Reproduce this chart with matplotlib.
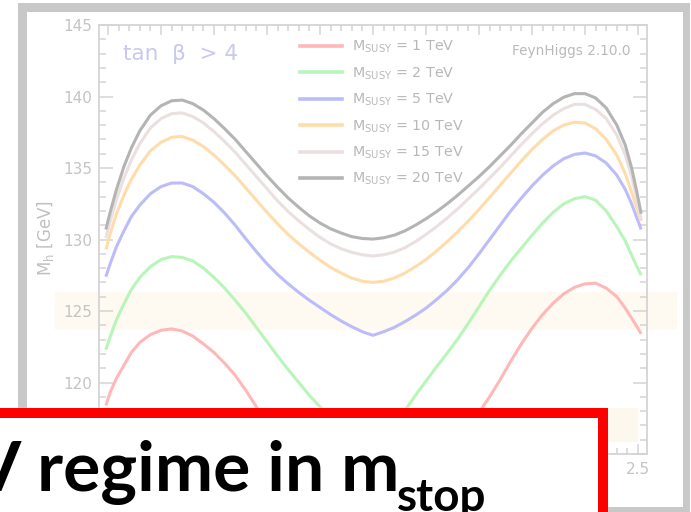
import matplotlib
matplotlib.use("Agg")
import matplotlib.pyplot as plt
from matplotlib.patches import Rectangle
from matplotlib.lines import Line2D
from matplotlib.ticker import MultipleLocator, FuncFormatter

W, H = 691, 512

xt = [-2.52, -2.48, -2.42, -2.35, -2.28, -2.2,
      -2.1, -2.0, -1.9, -1.8, -1.7, -1.6, -1.5, -1.4, -1.3, -1.2, -1.1, -1.0,
      -0.9, -0.8, -0.7, -0.6, -0.5, -0.4, -0.3, -0.2, -0.1,
      0.0, 0.1, 0.2, 0.3, 0.4, 0.5, 0.6, 0.7, 0.8, 0.9, 1.0, 1.1,
      1.2, 1.3, 1.4, 1.5, 1.6, 1.7, 1.8, 1.9, 2.0, 2.1, 2.2, 2.3,
      2.38, 2.44, 2.49, 2.53]

mh_1 = [118.4, 119.3, 120.3, 121.2, 122.1, 122.8,
        123.35, 123.65, 123.75, 123.6, 123.25, 122.7, 122.1, 121.35, 120.5, 119.45, 118.3, 117.0,
        115.6, 114.2, 112.9, 111.9, 111.1, 110.4, 109.8, 109.4, 109.1,
        109.0, 109.2, 109.7, 110.4, 111.3, 112.3, 113.4, 114.6, 115.8, 116.9, 117.9, 119.0,
        120.2, 121.5, 122.7, 123.8, 124.75, 125.55, 126.2, 126.65, 126.9, 126.95, 126.6, 126.0,
        125.2, 124.5, 123.9, 123.4]
mh_2 = [122.3, 123.2, 124.4, 125.5, 126.5, 127.35,
        128.1, 128.6, 128.8, 128.75, 128.5, 128.0, 127.35, 126.6, 125.75, 124.85, 123.85, 122.85,
        121.85, 120.9, 120.0, 119.1, 118.3, 117.5, 116.8, 116.2, 115.8,
        115.6, 116.0, 116.9, 118.0, 119.1, 120.1, 121.1, 122.05, 123.05, 124.15, 125.3, 126.45,
        127.5, 128.5, 129.4, 130.3, 131.15, 131.9, 132.5, 132.85, 133.0, 132.75, 132.0, 130.9,
        129.9, 128.9, 128.1, 127.5]
mh_5 = [127.4, 128.3, 129.5, 130.6, 131.6, 132.4,
        133.2, 133.7, 133.95, 133.95, 133.7, 133.2, 132.6, 131.85, 131.0, 130.05, 129.15, 128.3,
        127.55, 126.9, 126.3, 125.75, 125.25, 124.75, 124.3, 123.9, 123.55,
        123.3, 123.55, 123.85, 124.25, 124.7, 125.2, 125.8, 126.45, 127.2, 128.05, 129.0, 130.0,
        131.0, 132.0, 132.9, 133.75, 134.5, 135.15, 135.65, 135.95, 136.05, 135.85, 135.35, 134.5,
        133.5, 132.5, 131.5, 130.7]
mh_10 = [129.3, 130.4, 131.8, 133.1, 134.2, 135.2,
         136.2, 136.8, 137.15, 137.2, 136.95, 136.5, 135.9, 135.2, 134.45, 133.6, 132.75, 131.9,
         131.1, 130.35, 129.7, 129.1, 128.55, 128.05, 127.65, 127.3, 127.08,
         127.0, 127.08, 127.3, 127.65, 128.1, 128.6, 129.2, 129.85, 130.55, 131.3, 132.1, 132.95,
         133.8, 134.65, 135.5, 136.3, 137.0, 137.6, 138.0, 138.2, 138.15, 137.75, 137.0, 135.9,
         134.6, 133.3, 132.2, 131.3]
mh_15 = [130.1, 131.25, 132.8, 134.3, 135.55, 136.7,
         137.8, 138.45, 138.8, 138.85, 138.6, 138.15, 137.55, 136.85, 136.1, 135.25, 134.4, 133.55,
         132.7, 131.95, 131.3, 130.7, 130.15, 129.7, 129.35, 129.1, 128.93,
         128.85, 128.93, 129.12, 129.42, 129.85, 130.35, 130.9, 131.5, 132.15, 132.85, 133.55, 134.3,
         135.05, 135.85, 136.65, 137.4, 138.1, 138.7, 139.15, 139.45, 139.45, 139.1, 138.45, 137.3,
         135.9, 134.4, 132.8, 131.4]
mh_20 = [130.7, 131.9, 133.5, 135.1, 136.4, 137.6,
         138.7, 139.35, 139.7, 139.75, 139.5, 139.05, 138.45, 137.75, 137.0, 136.15, 135.3, 134.45,
         133.65, 132.9, 132.25, 131.65, 131.15, 130.75, 130.45, 130.2, 130.07,
         130.03, 130.12, 130.3, 130.6, 131.0, 131.45, 131.95, 132.5, 133.1, 133.75, 134.4, 135.1,
         135.85, 136.6, 137.4, 138.15, 138.9, 139.5, 139.95, 140.2, 140.2, 139.9, 139.2, 138.0,
         136.6, 135.0, 133.3, 131.8]

series = [mh_1, mh_2, mh_5, mh_10, mh_15, mh_20]
labels = [r"M$_{\rm SUSY}$ = 1 TeV", r"M$_{\rm SUSY}$ = 2 TeV", r"M$_{\rm SUSY}$ = 5 TeV",
          r"M$_{\rm SUSY}$ = 10 TeV", r"M$_{\rm SUSY}$ = 15 TeV", r"M$_{\rm SUSY}$ = 20 TeV"]
colors = ["#ffb8b8", "#b8f5b8", "#bcbcfa", "#ffdcaa", "#ebe0e0", "#b4b4b4"]

fig = plt.figure(figsize=(W / 100, H / 100), dpi=100)


def box(x0, y0, x1, y1, color, z):
    # pixel box, origin top-left
    fig.add_artist(Rectangle((x0 / W, 1 - y1 / H), (x1 - x0) / W, (y1 - y0) / H,
                             transform=fig.transFigure, facecolor=color,
                             edgecolor="none", zorder=z))


# slide frame and highlight bands
box(18, 3, 690, 530, "#c8c8c8", -5)
box(27, 12, 683, 507, "white", -4)
box(55, 292, 677, 330, "#fefaf2", -3)
box(600, 408, 638, 442, "#fdf8ee", -3)

ax = fig.add_axes([99 / W, 1 - 454 / H, 548 / W, 429 / H])
ax.set_facecolor("none")

for vals, c in zip(series, colors):
    ax.plot(xt, vals, color=c, lw=2.2, solid_capstyle="butt")

ax.set_xlim(-2.585, 2.585)
ax.set_ylim(115, 145)
ax.xaxis.set_major_locator(MultipleLocator(0.5))
ax.xaxis.set_minor_locator(MultipleLocator(0.1))
ax.yaxis.set_major_locator(MultipleLocator(5))
ax.yaxis.set_minor_locator(MultipleLocator(1))
# the call-out box hides every x label except the last one, and the 115 label
ax.xaxis.set_major_formatter(FuncFormatter(lambda v, p: "2.5" if abs(v - 2.5) < 1e-6 else ""))
ax.yaxis.set_major_formatter(FuncFormatter(lambda v, p: "" if v < 117 else f"{v:.0f}"))

grey = "#d4d4d4"
for s in ax.spines.values():
    s.set_color(grey)
    s.set_linewidth(1.3)
ax.tick_params(which="both", direction="in", top=True, right=True, color=grey,
               labelcolor="#c4c4c4", labelsize=11)
ax.tick_params(axis="x", which="major", length=7, width=1.1, pad=6)
ax.tick_params(axis="x", which="minor", length=4, width=1.1)
ax.tick_params(axis="y", which="major", length=10, width=1.1, pad=5)
ax.tick_params(axis="y", which="minor", length=5, width=1.1)

fig.text(45 / W, 1 - 238 / H, r"M$_{\rm h}$ [GeV]", rotation=90, ha="center", va="center",
         fontsize=12, color="#c0c0c0")
fig.text(123 / W, 1 - 60 / H, "tan  β  > 4", fontsize=15.5, color="#c8c8f0", va="baseline")
fig.text(512 / W, 1 - 55 / H, "FeynHiggs 2.10.0", fontsize=9.8, color="#bababa", va="baseline")

# legend
for i, (lab, c) in enumerate(zip(labels, colors)):
    yy = 46 + i * 26.4
    fig.add_artist(Line2D([300 / W, 342 / W], [1 - yy / H] * 2, transform=fig.transFigure,
                          color=c, lw=2.6))
    fig.text(352 / W, 1 - (yy + 5) / H, lab, fontsize=10.3, color="#b8b8b8", va="baseline")

# red call-out box on top
box(-10, 408, 608, 530, "#ff0000", 5)
box(-10, 418, 598, 530, "white", 6)
fig.text(-28 / W, 1 - 491 / H, "V regime in m", fontfamily="Lato", fontweight="bold",
         fontsize=50, color="black", va="baseline", zorder=7)
fig.text(397 / W, 1 - 511 / H, "stop", fontfamily="Lato", fontweight="bold",
         fontsize=33, color="black", va="baseline", zorder=7)

fig.savefig("out.png", dpi=100)
